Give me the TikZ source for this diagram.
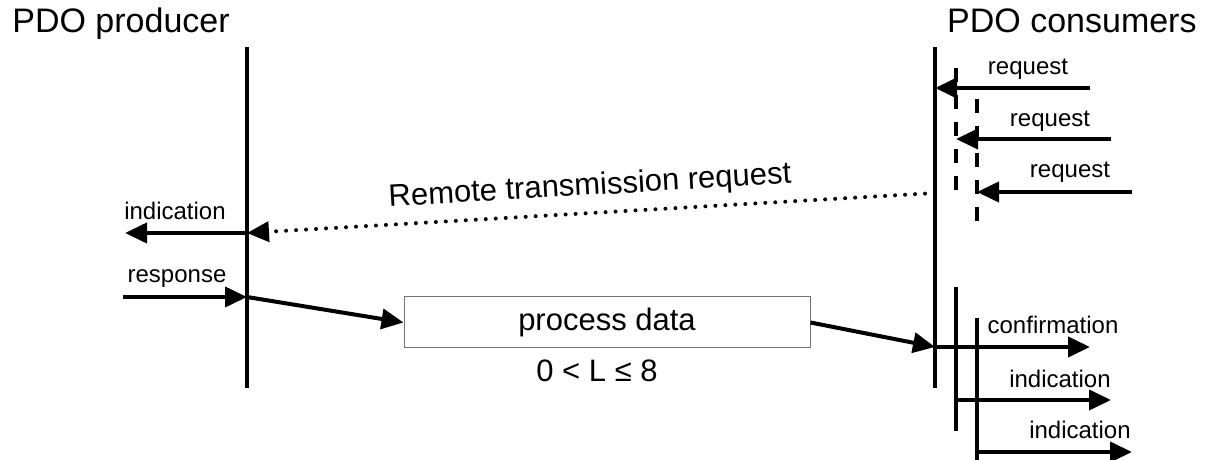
\documentclass[tikz,border=0pt]{standalone}
\usepackage{fontspec}
\setmainfont{Liberation Sans}
\usetikzlibrary{arrows.meta}

\begin{document}
\begin{tikzpicture}[x=0.5pt,y=-0.5pt,
        lifeline/.style={line width=2pt},
        dashline/.style={line width=1.7pt,dash pattern=on 7pt off 6.5pt},
        msg/.style={line width=2pt,-{Triangle[length=11pt,width=10pt]}},
        rtr/.style={line width=2pt,line cap=round,dash pattern=on 0pt off 5pt,-{Triangle[length=11pt,width=10pt]}},
        lbl/.style={font=\fontsize{12}{14}\selectfont,inner sep=0pt,anchor=base},
        big/.style={font=\fontsize{15.5}{18}\selectfont,inner sep=0pt},
        title/.style={font=\fontsize{17}{20}\selectfont,inner sep=0pt}]
    \useasboundingbox (0,0) rectangle (1207,460);
    \node [title,anchor=base west] (prodtitle) at (12,33) {PDO producer};
    \node [title,anchor=base east] (constitle) at (1197,33) {PDO consumers};
    % lifelines
    \coordinate (ptop) at (247,47);  \coordinate (pbot) at (247,388);
    \coordinate (c1top) at (935,47); \coordinate (c1bot) at (935,388);
    \coordinate (c2top) at (956,68); \coordinate (c2mid) at (956,190);
    \coordinate (c2low) at (956,287); \coordinate (c2bot) at (956,431);
    \coordinate (c3top) at (977,99); \coordinate (c3mid) at (977,222);
    \coordinate (c3low) at (977,318); \coordinate (c3bot) at (977,460);
    \draw [lifeline] (ptop) -- (pbot);
    \draw [lifeline] (c1top) -- (c1bot);
    \draw [dashline] (c2top) -- (c2mid);
    \draw [dashline] (c3top) -- (c3mid);
    \draw [lifeline] (c2low) -- (c2bot);
    \draw [lifeline] (c3low) -- (c3bot);
    % requests
    \coordinate (rq1) at (1090,88);  \coordinate (rq1e) at (935,88);
    \coordinate (rq2) at (1111,139); \coordinate (rq2e) at (956,139);
    \coordinate (rq3) at (1132,192); \coordinate (rq3e) at (977,192);
    \draw [msg] (rq1) -- (rq1e);
    \draw [msg] (rq2) -- (rq2e);
    \draw [msg] (rq3) -- (rq3e);
    \node [lbl] (rq1lbl) at (1028,75) {request};
    \node [lbl] (rq2lbl) at (1050,127) {request};
    \node [lbl] (rq3lbl) at (1070,178) {request};
    % remote transmission request
    \coordinate (rtrs) at (935,193); \coordinate (rtre) at (247,233);
    \draw [rtr] (rtrs) -- (rtre);
    \node [big,rotate=3.3] (rtrlbl) at (590,187) {Remote transmission request};
    \coordinate (pind) at (125,233);
    \draw [msg] (rtre) -- (pind);
    \node [lbl] (pindlbl) at (175,220) {indication};
    \coordinate (presp) at (123,297); \coordinate (prespe) at (247,297);
    \draw [msg] (presp) -- (prespe);
    \node [lbl] (presplbl) at (177,283) {response};
    % process data
    \node [big,draw=black!55,line width=0.5pt,minimum width=203pt,minimum height=25.5pt] (pdata) at (607,322.5) {process data};
    \node [big,anchor=base] (pdlen) at (597,381) {0 < L ≤ 8};
    \draw [msg] (prespe) -- (pdata.west);
    \coordinate (cconf) at (935,347);
    \draw [msg] (pdata.east) -- (cconf);
    % confirmation / indications
    \coordinate (cconfe) at (1090,347);
    \coordinate (cind2) at (956,400);  \coordinate (cind2e) at (1111,400);
    \coordinate (cind3) at (977,452);  \coordinate (cind3e) at (1132,452);
    \draw [msg] (cconf) -- (cconfe);
    \draw [msg] (cind2) -- (cind2e);
    \draw [msg] (cind3) -- (cind3e);
    \node [lbl] (cconflbl) at (1053,334) {confirmation};
    \node [lbl] (cind2lbl) at (1060,387) {indication};
    \node [lbl] (cind3lbl) at (1080,438) {indication};
\end{tikzpicture}
\end{document}
